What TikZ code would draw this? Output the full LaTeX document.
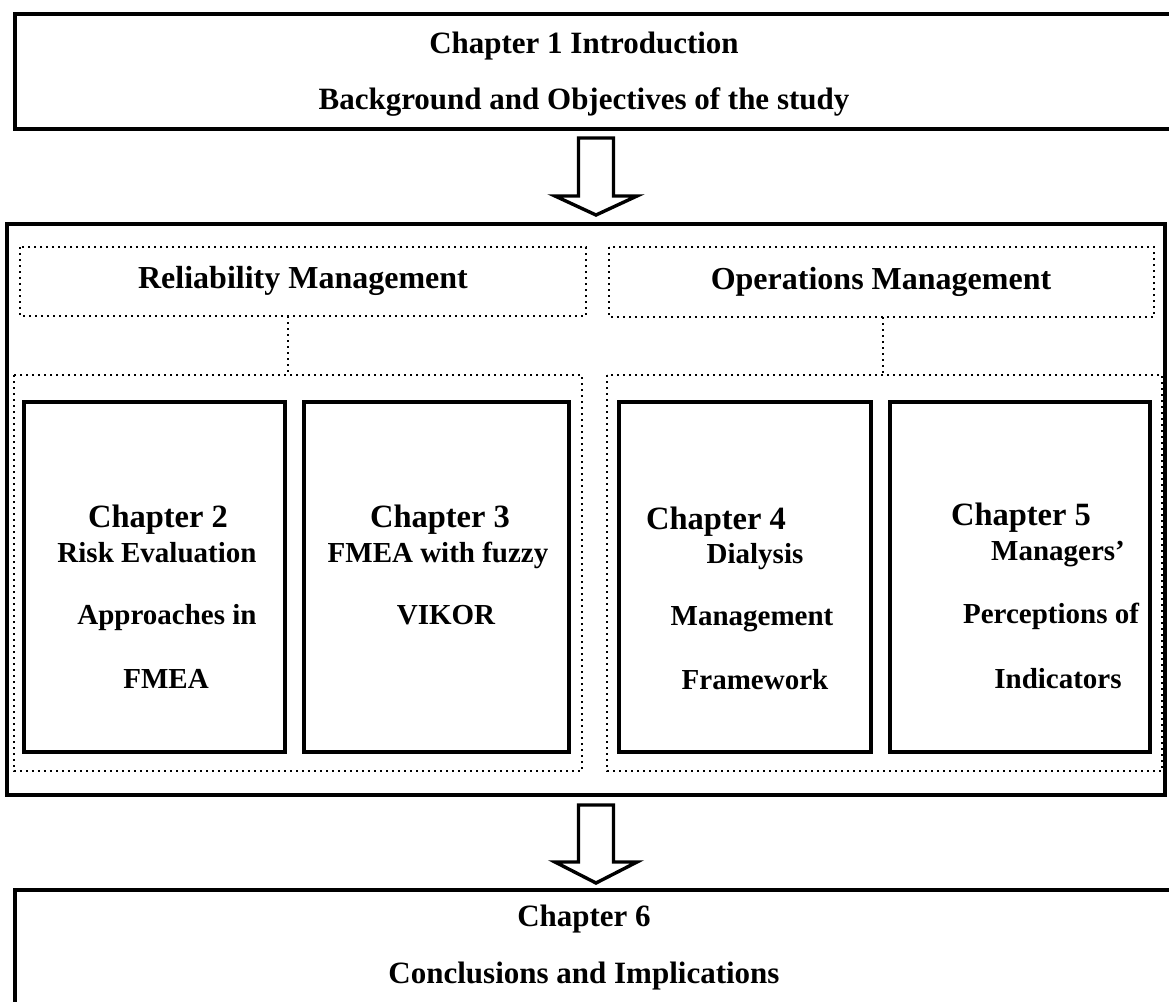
\documentclass[tikz,border=0pt]{standalone}
\usepackage{fontspec}
\setmainfont{Liberation Serif}
\begin{document}
\begin{tikzpicture}[x=1pt,y=-1pt,
  thickbox/.style={line width=4pt},
  chapbox/.style={line width=4.5pt},
  dotbox/.style={line width=2.4pt,dash pattern=on 2.4pt off 3.6pt},
  blockarrow/.style={line width=3.4pt,line join=miter},
  titletext/.style={font=\bfseries\fontsize{31}{33}\selectfont,inner sep=0pt},
  areatext/.style={font=\bfseries\fontsize{32}{34}\selectfont,inner sep=0pt},
  chaptext/.style={font=\bfseries\fontsize{32.5}{34}\selectfont,inner sep=0pt,anchor=base},
  subtext/.style={font=\bfseries\fontsize{29}{31}\selectfont,inner sep=0pt,anchor=base}]
\useasboundingbox (0,0) rectangle (1169,1001);
\clip (0,0) rectangle (1169,1001);

% Chapter 1 frame (runs past the right edge)
\draw[thickbox] (1190,14) -- (15,14) -- (15,129) -- (1190,129);
\node[titletext] (c1a) at (584,46) {Chapter 1 Introduction};
\node[titletext] (c1b) at (584,102) {Background and Objectives of the study};

% block arrow from chapter 1 to the body
\draw[blockarrow] (578.5,138) -- (613.5,138) -- (613.5,196) -- (637,196)
  -- (596,215) -- (555,196) -- (578.5,196) -- cycle;

% outer frame of the core chapters
\draw[thickbox] (7,224) rectangle (1165,795);

% research areas
\draw[dotbox] (20,247) rectangle (586,316);
\node[areatext] (rel) at (303,281) {Reliability Management};
\draw[dotbox] (609,247) rectangle (1154,317);
\node[areatext] (ops) at (881,282) {Operations Management};

\coordinate (relb) at (288,316);
\coordinate (opsb) at (883,317);
\coordinate (relg) at (288,375);
\coordinate (opsg) at (883,375);
\draw[dotbox] (relb) -- (relg);
\draw[dotbox] (opsb) -- (opsg);

% chapter groups
\draw[dotbox] (14,375) rectangle (582,771);
\draw[dotbox] (607,375) rectangle (1162,771);

% chapter boxes
\draw[chapbox] (24,402) rectangle (285,752);
\draw[chapbox] (304,402) rectangle (569,752);
\draw[chapbox] (619,402) rectangle (871,752);
\draw[chapbox] (890,402) rectangle (1150,752);

\node[chaptext] (c2) at (158,527) {Chapter 2};
\node[subtext] (c2a) at (157,562) {Risk Evaluation};
\node[subtext] (c2b) at (167,624) {Approaches in};
\node[subtext] (c2c) at (166,688) {FMEA};

\node[chaptext] (c3) at (440,527) {Chapter 3};
\node[subtext] (c3a) at (438,562) {FMEA with fuzzy};
\node[subtext] (c3b) at (446,624) {VIKOR};

\node[chaptext] (c4) at (716,529) {Chapter 4};
\node[subtext] (c4a) at (755,563) {Dialysis};
\node[subtext] (c4b) at (752,625) {Management};
\node[subtext] (c4c) at (755,689) {Framework};

\node[chaptext] (c5) at (1021,525) {Chapter 5};
\node[subtext] (c5a) at (1058,560) {Managers’};
\node[subtext] (c5b) at (1051,623) {Perceptions of};
\node[subtext] (c5c) at (1058,688) {Indicators};

% block arrow from the body to chapter 6
\draw[blockarrow] (578.5,805) -- (613.5,805) -- (613.5,862) -- (637,862)
  -- (596,883) -- (555,862) -- (578.5,862) -- cycle;

% Chapter 6 frame (runs past the right and bottom edges)
\draw[thickbox] (1190,890) -- (15,890) -- (15,1020);
\node[titletext] (c6a) at (584,919) {Chapter 6};
\node[titletext] (c6b) at (584,976) {Conclusions and Implications};
\end{tikzpicture}
\end{document}
